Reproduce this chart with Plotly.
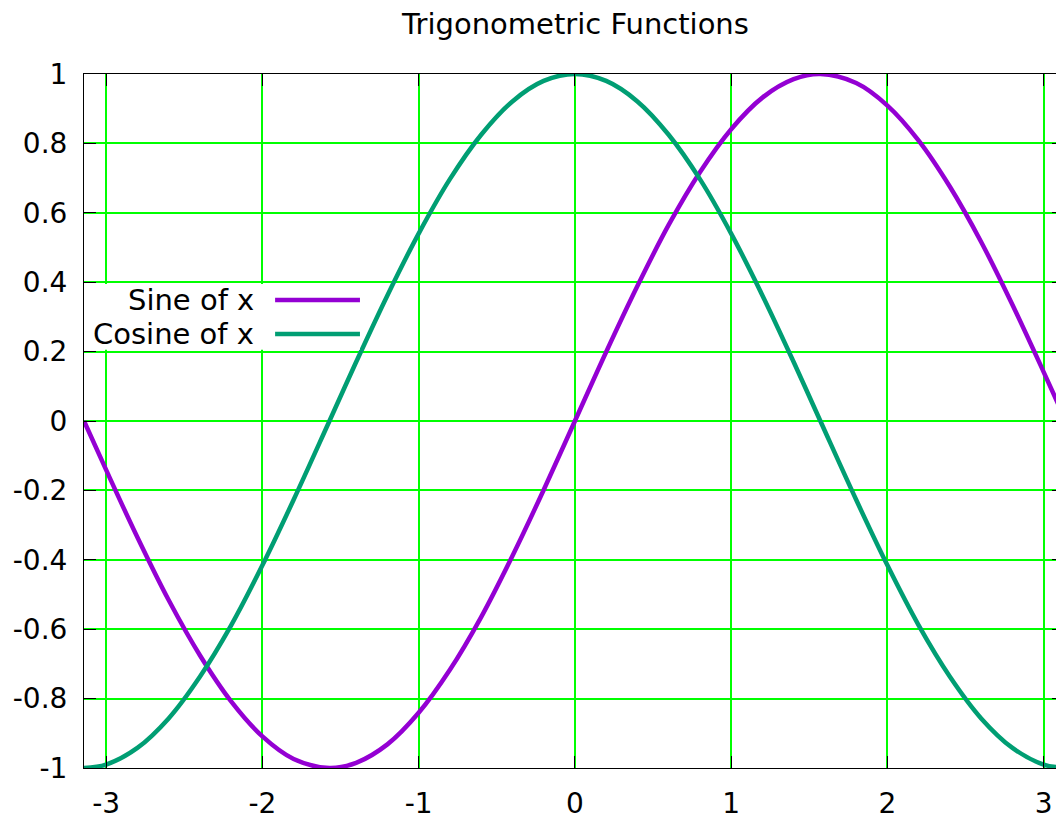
import plotly.graph_objects as go

x_vals = [-3.1416, -3.0, -2.8, -2.6, -2.4, -2.2, -2.0, -1.8, -1.5708, -1.4, -1.2, -1.0,
          -0.8, -0.6, -0.4, -0.2, 0.0, 0.2, 0.4, 0.6, 0.8, 1.0, 1.2, 1.4, 1.5708,
          1.8, 2.0, 2.2, 2.4, 2.6, 2.8, 3.0, 3.1416]
sine_vals = [0.0, -0.141, -0.335, -0.516, -0.675, -0.808, -0.909, -0.974, -1.0, -0.985,
             -0.932, -0.841, -0.717, -0.565, -0.389, -0.199, 0.0, 0.199, 0.389, 0.565,
             0.717, 0.841, 0.932, 0.985, 1.0, 0.974, 0.909, 0.808, 0.675, 0.516, 0.335,
             0.141, 0.0]
cosine_vals = [-1.0, -0.990, -0.942, -0.857, -0.737, -0.589, -0.416, -0.227, 0.0, 0.170,
               0.362, 0.540, 0.697, 0.825, 0.921, 0.980, 1.0, 0.980, 0.921, 0.825, 0.697,
               0.540, 0.362, 0.170, 0.0, -0.227, -0.416, -0.589, -0.737, -0.857, -0.942,
               -0.990, -1.0]

series_names = ["Sine of x", "Cosine of x"]
series_colors = ["#9400D3", "#009E73"]

x_ticks = [-3, -2, -1, 0, 1, 2, 3]
x_tick_labels = ["-3", "-2", "-1", "0", "1", "2", "3"]
y_ticks = [1, 0.8, 0.6, 0.4, 0.2, 0, -0.2, -0.4, -0.6, -0.8, -1]
y_tick_labels = ["1", "0.8", "0.6", "0.4", "0.2", "0", "-0.2", "-0.4", "-0.6", "-0.8", "-1"]

FONT = "DejaVu Sans"

fig = go.Figure()
for name, ys, col in zip(series_names, [sine_vals, cosine_vals], series_colors):
    fig.add_trace(go.Scatter(x=x_vals, y=ys, mode="lines", name=name,
                             line=dict(color=col, width=4.5, shape="spline", smoothing=1.0)))

axis_common = dict(
    showgrid=True, gridcolor="#00FF00", gridwidth=1.5,
    showline=True, linecolor="black", linewidth=1, mirror="ticks",
    ticks="inside", ticklen=12, tickcolor="black", tickwidth=1,
    tickfont=dict(family=FONT, size=28, color="black"),
    zeroline=False, automargin=False,
)

# the page body has an 8px margin, so the figure is offset by 8px on the page
fig.update_layout(
    width=1056, height=811,
    margin=dict(l=76, r=0, t=66, b=51),
    paper_bgcolor="white", plot_bgcolor="white",
    showlegend=False,
    title=dict(text="Trigonometric Functions", x=0.5374, xanchor="center",
               y=1 - 16 / 811, yanchor="middle", yref="container",
               font=dict(family=FONT, size=29, color="black")),
    xaxis=dict(range=[-3.1416, 3.13], tickvals=x_ticks, ticktext=x_tick_labels,
               ticklabelstandoff=10, **axis_common),
    yaxis=dict(range=[-1, 1], tickvals=y_ticks, ticktext=y_tick_labels,
               ticklabelstandoff=10, **axis_common),
)

# gnuplot-style opaque key: text right-aligned, sample line to its right
fig.add_shape(type="rect", xref="paper", yref="y", x0=0, x1=0.2816, y0=0.205, y1=0.395,
              fillcolor="white", line=dict(width=0), layer="above")
key_y = [0.349, 0.251]
for name, col, ky in zip(series_names, series_colors, key_y):
    fig.add_shape(type="line", xref="paper", yref="y", x0=0.195, x1=0.2816, y0=ky, y1=ky,
                  line=dict(color=col, width=4.5), layer="above")
    fig.add_annotation(text=name, xref="paper", yref="y", x=0.176, y=ky, xanchor="right",
                       yanchor="middle", showarrow=False,
                       font=dict(family=FONT, size=29, color="black"))

fig.write_html("out.html")
